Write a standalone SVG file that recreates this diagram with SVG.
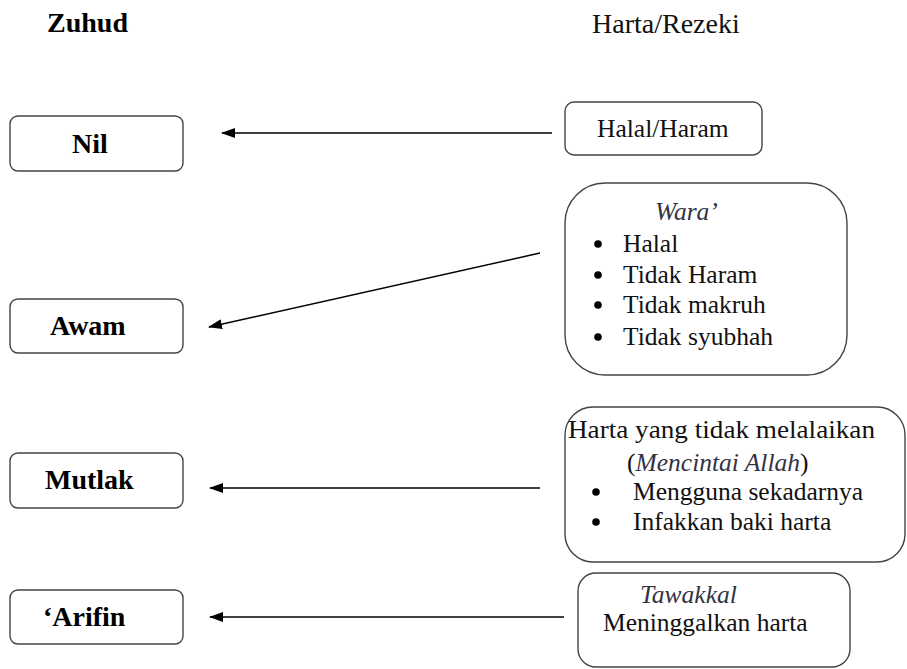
<svg xmlns="http://www.w3.org/2000/svg" width="907" height="669" viewBox="0 0 907 669">
<defs>
<style>
text{font-family:"Liberation Serif",Tinos,"Times New Roman","DejaVu Serif",serif}
.box{fill:#fff;stroke:#444;stroke-width:1.4}
.b{font-weight:bold;font-size:28px;fill:#000}
.t{font-size:25.5px;fill:#111}
.h{font-size:28px;fill:#111}
.i{font-style:italic;fill:#333344}
.conn{stroke:#000;stroke-width:1.5;fill:none;marker-end:url(#ah)}
.dot{fill:#000}
</style>
<marker id="ah" markerWidth="14" markerHeight="10" refX="13" refY="5" orient="auto" markerUnits="userSpaceOnUse">
<path d="M0,0 L14,5 L0,10 Z" fill="#000"/>
</marker>
</defs>
<rect width="907" height="669" fill="#fff"/>
<g id="titles">
<text class="b" x="47" y="32" font-family="Liberation Serif, serif">Zuhud</text>
<text class="h" x="592" y="33" font-family="Liberation Serif, serif">Harta/Rezeki</text>
</g>
<g id="node-nil">
<rect class="box" x="10" y="116" width="173" height="55" rx="8"/>
<text class="b" x="72" y="153">Nil</text>
</g>
<g id="node-awam">
<rect class="box" x="10" y="299" width="173" height="54" rx="8"/>
<text class="b" x="50" y="335">Awam</text>
</g>
<g id="node-mutlak">
<rect class="box" x="10" y="453" width="173" height="55" rx="8"/>
<text class="b" x="45" y="489">Mutlak</text>
</g>
<g id="node-arifin">
<rect class="box" x="10" y="590" width="173" height="54" rx="8"/>
<text class="b" x="43" y="626">‘Arifin</text>
</g>
<g id="node-halal">
<rect class="box" x="565" y="102" width="197" height="53" rx="9"/>
<text class="t" x="597" y="137">Halal/Haram</text>
</g>
<g id="node-wara">
<rect class="box" x="565" y="183" width="282" height="192" rx="40"/>
<text class="t i" x="655" y="220">Wara’</text>
<circle class="dot" cx="598" cy="244" r="3.8"/>
<text class="t" x="623" y="252">Halal</text>
<circle class="dot" cx="598" cy="275" r="3.8"/>
<text class="t" x="623" y="283">Tidak Haram</text>
<circle class="dot" cx="598" cy="305" r="3.8"/>
<text class="t" x="623" y="313">Tidak makruh</text>
<circle class="dot" cx="598" cy="337" r="3.8"/>
<text class="t" x="623" y="345">Tidak syubhah</text>
</g>
<g id="node-melalaikan">
<rect class="box" x="565" y="407" width="340" height="155" rx="28"/>
<text class="t" x="568" y="438" textLength="307" lengthAdjust="spacingAndGlyphs">Harta yang tidak melalaikan</text>
<text class="t" x="627" y="471">(<tspan class="i">Mencintai  Allah</tspan>)</text>
<circle class="dot" cx="596" cy="492" r="3.8"/>
<text class="t" x="633" y="500">Mengguna sekadarnya</text>
<circle class="dot" cx="596" cy="522" r="3.8"/>
<text class="t" x="633" y="530">Infakkan baki harta</text>
</g>
<g id="node-tawakkal">
<rect class="box" x="578" y="573" width="272" height="94" rx="18"/>
<text class="t i" x="640" y="603">Tawakkal</text>
<text class="t" x="603" y="631">Meninggalkan harta</text>
</g>
<g id="connectors">
<line class="conn" x1="552" y1="133" x2="222" y2="133"/>
<line class="conn" x1="540" y1="253" x2="209" y2="327"/>
<line class="conn" x1="540" y1="488" x2="210" y2="488"/>
<line class="conn" x1="564" y1="617" x2="210" y2="617"/>
</g>
</svg>
